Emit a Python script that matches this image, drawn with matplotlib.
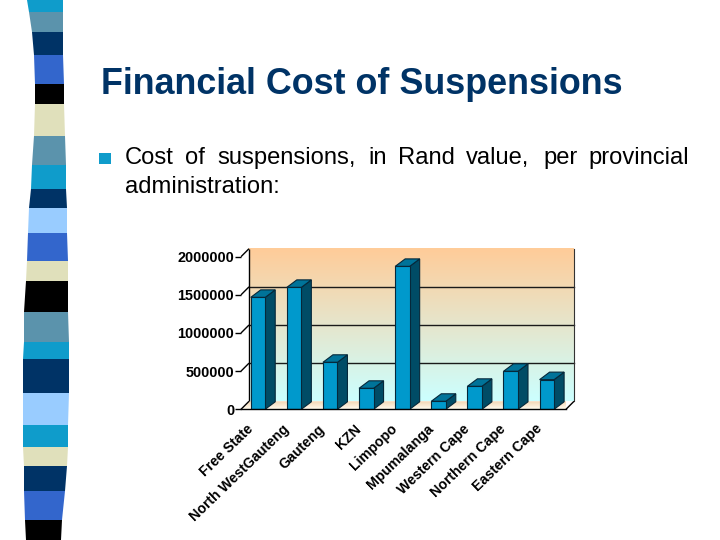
import matplotlib
matplotlib.use("Agg")
import matplotlib.pyplot as plt
from matplotlib.patches import Polygon, Rectangle
from matplotlib.transforms import Affine2D
import numpy as np

plt.rcParams["font.family"] = ["Liberation Sans", "DejaVu Sans"]

provinces = ["Free State", "North WestGauteng", "Gauteng", "KZN", "Limpopo", "Mpumalanga",
             "Western Cape", "Northern Cape", "Eastern Cape"]
costs = [1467000, 1598000, 616000, 275000, 1873000, 105000, 301000, 498000, 389000]
y_ticks = [0, 500000, 1000000, 1500000, 2000000]

title = "Financial Cost of Suspensions"
body_words = ["Cost", "of", "suspensions,", "in", "Rand", "value,", "per", "provincial"]
body_word_x = [125, 185, 217, 368, 398, 466, 543, 588]
body_line2 = "administration:"

# left strip of the slide: y, left edge, right edge for each band boundary
strip_y = [0, 12, 32, 55, 84, 104, 136, 165, 189, 208, 233, 261, 281, 312, 342, 359, 393, 425, 447, 466, 491, 520, 540]
strip_l = [27, 29, 32, 34, 35, 35, 34, 32, 31, 29, 28, 27, 26, 24, 24, 23, 23, 23, 23, 24, 24, 25, 26]
strip_r = [63, 63, 63, 63, 64, 64, 65, 66, 66, 67, 67, 68, 68, 68, 69, 69, 69, 68, 68, 67, 65, 62, 61]
CYAN, TEAL, NAVY, ROYAL, BLACK, BEIGE, LIGHT = "#0F9CCB", "#5B93AC", "#003366", "#3366CC", "#000000", "#E0E0BB", "#99CCFF"
strip_colors = [CYAN, TEAL, NAVY, ROYAL, BLACK, BEIGE, TEAL, CYAN, NAVY, LIGHT, ROYAL, BEIGE, BLACK,
                TEAL, CYAN, NAVY, LIGHT, CYAN, BEIGE, NAVY, ROYAL, BLACK]

fig = plt.figure(figsize=(7.2, 5.4), dpi=100, facecolor="white")

# slide layer in pixel coordinates
bg = fig.add_axes([0, 0, 1, 1], zorder=0)
bg.set_xlim(0, 720)
bg.set_ylim(540, 0)
bg.axis("off")

for i, c in enumerate(strip_colors):
    pts = [(strip_l[i], strip_y[i]), (strip_r[i], strip_y[i]), (strip_r[i + 1], strip_y[i + 1]), (strip_l[i + 1], strip_y[i + 1])]
    bg.add_patch(Polygon(pts, closed=True, fc=c, ec="none"))

bg.text(101, 94, title, fontsize=25.8, fontweight="bold", color="#003366", ha="left", va="baseline")
bg.add_patch(Rectangle((99, 153), 12, 11, fc="#0F9CCB", ec="none"))
for w, x in zip(body_words, body_word_x):
    bg.text(x, 164, w, fontsize=17.1, color="black", ha="left", va="baseline")
bg.text(125, 193, body_line2, fontsize=17.1, color="black", ha="left", va="baseline")

# chart: axes box is the front plane of the 3D look
left, right, bottom, top = 241, 566, 409.3, 256.7
ax = fig.add_axes([left / 720, (540 - bottom) / 540, (right - left) / 720, (bottom - top) / 540], zorder=1)
ax.patch.set_visible(False)
x0, x1 = -0.47, 8.53
y1 = 2000000
ax.set_xlim(x0, x1)
ax.set_ylim(0, y1)
px_x = (x1 - x0) / (right - left)
px_y = y1 / (bottom - top)
wall_dx, wall_dy = 8 * px_x, 8 * px_y

grad = np.linspace(0, 1, 100)[:, None, None] * np.array([0xCC - 0xFF, 0xFF - 0xCC, 0xFF - 0x99]) / 255 + np.array([0xFF, 0xCC, 0x99]) / 255
ax.imshow(grad, extent=[x0 + wall_dx, x1 + wall_dx, wall_dy, y1 + wall_dy], aspect="auto", zorder=1, clip_on=False)

floor_pts = [(x0, 0), (x1, 0), (x1 + wall_dx, wall_dy), (x0 + wall_dx, wall_dy)]
floor_grad = np.linspace(0, 1, 20)[:, None, None] * np.array([0xF3 - 0xFF, 0xD6 - 0xFB, 0xB4 - 0xEE]) / 255 + np.array([0xFF, 0xFB, 0xEE]) / 255
floor_im = ax.imshow(floor_grad, extent=[x0, x1 + wall_dx, 0, wall_dy], origin="lower", aspect="auto", zorder=1)
floor_poly = Polygon(floor_pts, closed=True, transform=ax.transData, fc="none", ec="none")
ax.add_patch(floor_poly)
floor_im.set_clip_path(floor_poly)
ax.set_xlim(x0, x1)
ax.set_ylim(0, y1)

line = dict(color="black", lw=1.0, clip_on=False, zorder=2, solid_capstyle="butt")
for t in y_ticks:
    if 0 < t < y1:
        ax.plot([x0 + wall_dx, x1 + wall_dx], [t + wall_dy, t + wall_dy], color="#1a1a1a", lw=1.0, clip_on=False, zorder=2)
    ax.plot([x0, x0 + wall_dx], [t, t + wall_dy], **line)
ax.plot([x0 + wall_dx, x0 + wall_dx], [wall_dy, y1 + wall_dy], **line)
ax.plot([x1 + wall_dx, x1 + wall_dx], [wall_dy, y1 + wall_dy], color="#333333", lw=0.8, clip_on=False, zorder=2)
ax.plot([x1, x1 + wall_dx], [0, wall_dy], **line)

# bars with a side and a top face
xs = np.arange(len(costs))
bar_w = 14.5 * px_x
bar_dx, bar_dy = 10 * px_x, 7.5 * px_y
ax.bar(xs, costs, width=bar_w, color="#0099CC", edgecolor="#06283A", linewidth=0.8, zorder=4)
for x, v in zip(xs, costs):
    xr = x + bar_w / 2
    xl = x - bar_w / 2
    ax.add_patch(Polygon([(xr, 0), (xr + bar_dx, bar_dy), (xr + bar_dx, v + bar_dy), (xr, v)], closed=True,
                         fc="#004C66", ec="#06283A", lw=0.8, zorder=3, clip_on=False))
    ax.add_patch(Polygon([(xl, v), (xr, v), (xr + bar_dx, v + bar_dy), (xl + bar_dx, v + bar_dy)], closed=True,
                         fc="#007399", ec="#06283A", lw=0.8, zorder=3, clip_on=False))

for s in ["top", "right", "left"]:
    ax.spines[s].set_visible(False)
ax.spines["bottom"].set_linewidth(1.0)
ax.spines["bottom"].set_zorder(5)

ax.set_yticks(y_ticks, labels=[str(t) for t in y_ticks], fontsize=10.4, fontweight="bold")
ax.tick_params(axis="y", length=4, width=1, pad=1)
ax.set_xticks(xs, labels=provinces, fontsize=10.2, fontweight="bold", rotation=44, ha="right", rotation_mode="anchor")
ax.tick_params(axis="x", length=0, pad=9)
shift = Affine2D().translate(-12, 0)
for lab in ax.get_xticklabels():
    lab.set_transform(lab.get_transform() + shift)

fig.savefig("out.png", dpi=100)
